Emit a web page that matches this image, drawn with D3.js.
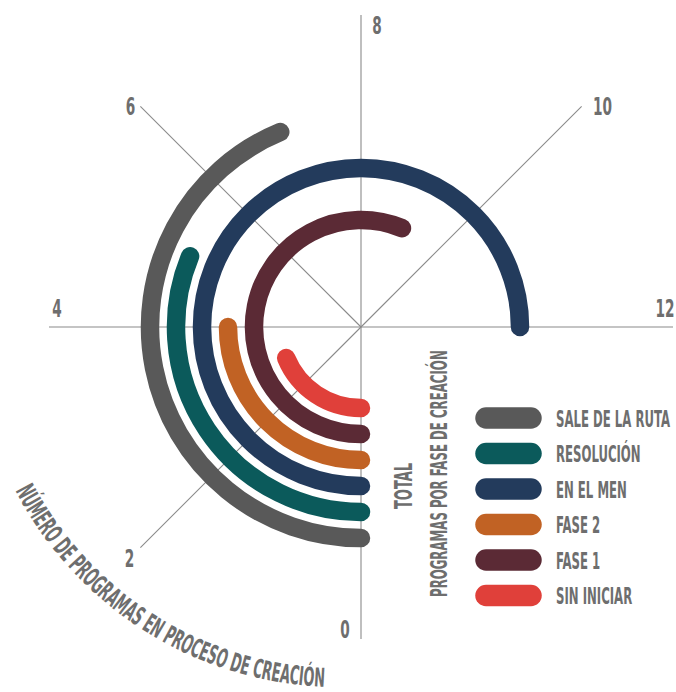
<!DOCTYPE html>
<html><head><meta charset="utf-8">
<script src="https://cdn.jsdelivr.net/npm/d3@7"></script>
<style>body{margin:0;background:#fff}svg{display:block}</style>
</head><body><svg id="c" width="676" height="692"></svg>
<script>
// ---- data ----
const categories = ["SALE DE LA RUTA", "RESOLUCIÓN", "EN EL MEN", "FASE 2", "FASE 1", "SIN INICIAR"];
const values = [7, 5, 12, 4, 9, 3];
const colors = ["#595959", "#0b5a5b", "#233b5c", "#c16224", "#5b2a35", "#e0403a"];
const tickValues = [0, 2, 4, 6, 8, 10, 12];
const tickLabels = ["0", "2", "4", "6", "8", "10", "12"];
const axisTitle = "NÚMERO DE PROGRAMAS EN PROCESO DE CREACIÓN";
const legendTitle1 = "TOTAL";
const legendTitle2 = "PROGRAMAS POR FASE DE CREACIÓN";

// ---- layout ----
const FONT = "'Liberation Sans Narrow','DejaVu Sans Condensed','Roboto Condensed',sans-serif";
const WEIGHT = "bold";
const TXT = "#6e6e6e";
const CAP = 0.73;
const cx = 361, cy = 327, axisR = 312;
const svg = d3.select("#c");

const angle = d3.scaleLinear().domain([0, 16]).range([Math.PI / 2, Math.PI / 2 + 2 * Math.PI]);
const radius = d3.scalePoint().domain(categories).range([211, 81]);
const color = d3.scaleOrdinal().domain(categories).range(colors);

// measure natural width at a base font size
const probe = svg.append("text").attr("font-family", FONT).attr("font-weight", WEIGHT).attr("font-size", 100);
function natural(s) { probe.text(s); return probe.node().getComputedTextLength() / 100; }

// draw text fitted to width (em-scaled) and cap height (vertical stretch)
function fitted(parent, s, x, y, rot, fs, cap, anchor) {
  const sy = cap / (CAP * fs);
  return parent.append("text").text(s)
    .attr("transform", `translate(${x},${y}) rotate(${rot}) scale(1,${sy})`)
    .attr("text-anchor", anchor || "start")
    .attr("font-family", FONT).attr("font-weight", WEIGHT)
    .attr("font-size", fs).attr("fill", TXT);
}

// axis spokes
const spokes = svg.append("g");
tickValues.forEach(v => {
  const a = angle(v);
  spokes.append("line")
    .attr("x1", cx).attr("y1", cy)
    .attr("x2", cx + axisR * Math.cos(a)).attr("y2", cy + axisR * Math.sin(a))
    .attr("stroke", "#8a8a8a").attr("stroke-width", 1.1);
});

// tick labels
const labelOffset = {0: [-16, -10], 2: [-11, 10], 4: [8, -19], 6: [-10, 0], 8: [16, 10], 10: [21, 0], 12: [-8, -19]};
const digitFs = 10 / natural("8");
tickValues.forEach((v, i) => {
  const a = angle(v);
  const x = cx + axisR * Math.cos(a) + labelOffset[v][0];
  const y = cy + axisR * Math.sin(a) + labelOffset[v][1];
  fitted(svg, tickLabels[i], x, y + 9, 0, digitFs * 0.95, 18, "middle");
});

// arcs
const arcs = svg.append("g");
categories.forEach((c, i) => {
  const r = radius(c), a0 = angle(0), a1 = angle(values[i]);
  const p = d3.path();
  p.moveTo(cx + r * Math.cos(a0), cy + r * Math.sin(a0));
  p.arc(cx, cy, r, a0, a1, false);
  arcs.append("path").attr("d", p.toString())
    .attr("fill", "none").attr("stroke", color(c))
    .attr("stroke-width", 18.5).attr("stroke-linecap", "round");
});

// legend
const lg = svg.append("g");
const rowY = d3.scalePoint().domain(categories).range([418, 595.5]);
const legendFs = 114 / natural(categories[0]);
categories.forEach(c => {
  const y = rowY(c);
  lg.append("line").attr("x1", 486).attr("x2", 531).attr("y1", y).attr("y2", y)
    .attr("stroke", color(c)).attr("stroke-width", 21.5).attr("stroke-linecap", "round");
  fitted(lg, c, 556, y + 8.5, 0, legendFs, 17);
});

// vertical titles
fitted(svg, legendTitle1, 412, 509, -90, 46 / natural(legendTitle1), 18);
fitted(svg, legendTitle2, 447, 597, -90, 247 / natural(legendTitle2), 17);

// curved axis title
const tcx = 339, tcy = 322, tr = 365;
const ta0 = 152.5 * Math.PI / 180, ta1 = 92 * Math.PI / 180;
const tp = d3.path();
tp.moveTo(tcx + tr * Math.cos(ta0), tcy + tr * Math.sin(ta0));
tp.arc(tcx, tcy, tr, ta0, ta1, true);
svg.append("defs").append("path").attr("id", "titlePath").attr("d", tp.toString());
svg.append("text")
  .attr("font-family", FONT).attr("font-weight", WEIGHT).attr("font-size", 26).attr("fill", TXT)
  .append("textPath").attr("href", "#titlePath")
  .attr("textLength", tr * (ta0 - ta1) * 0.995).attr("lengthAdjust", "spacingAndGlyphs")
  .text(axisTitle);
probe.remove();
</script>
</body></html>
